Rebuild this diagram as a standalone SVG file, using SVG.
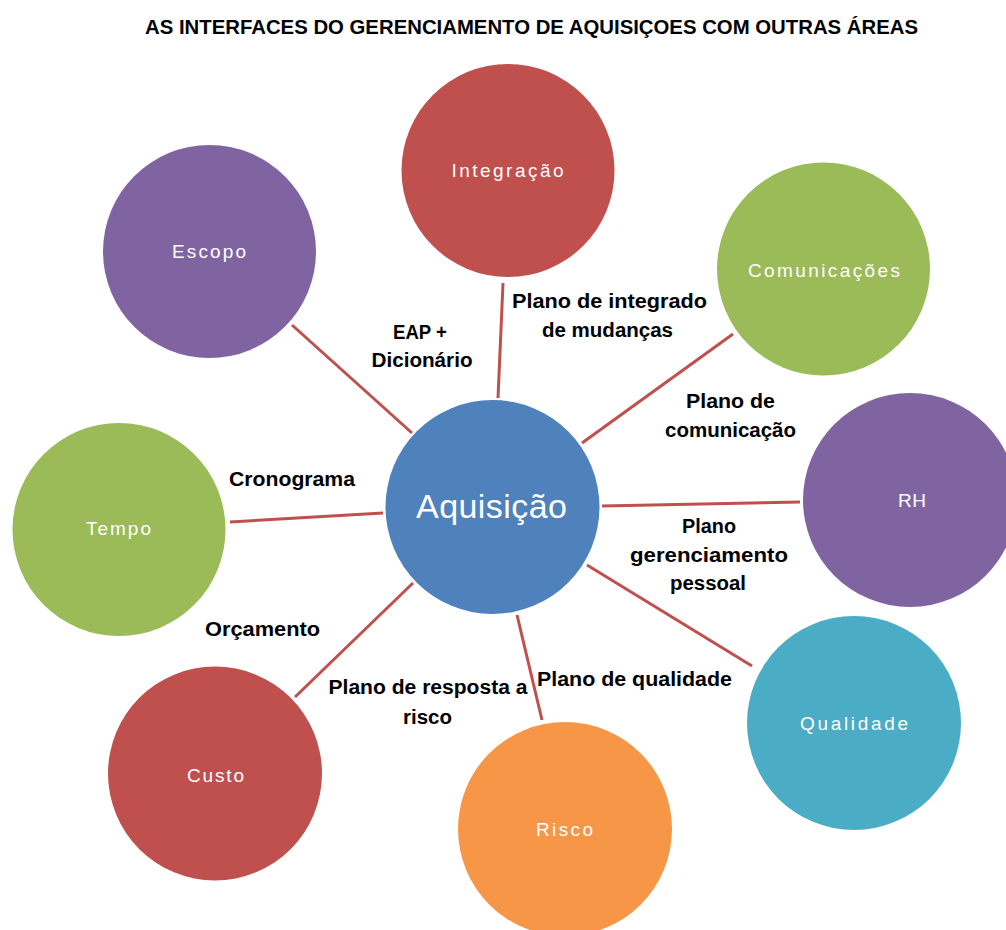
<svg xmlns="http://www.w3.org/2000/svg" width="1006" height="930" viewBox="0 0 1006 930">
  <style>
    .title { font-family: "Liberation Sans", Arial, sans-serif; font-weight: bold; font-size: 20px; fill: #000; }
    .lbl { font-family: "Liberation Sans", Arial, sans-serif; font-weight: bold; font-size: 20px; fill: #000; text-anchor: middle; }
    .node-text { font-family: "Liberation Sans", Arial, sans-serif; font-size: 19px; fill: #fff; text-anchor: middle; }
    .hub-text { font-family: "Liberation Sans", Arial, sans-serif; font-size: 34px; fill: #fff; text-anchor: middle; }
    .link { stroke: #C0504D; stroke-width: 3; stroke-linecap: butt; fill: none; }
    .red { fill: #C0504D; }
    .purple { fill: #8064A2; }
    .green { fill: #9BBB59; }
    .aqua { fill: #4BACC6; }
    .orange { fill: #F79646; }
    .blue { fill: #4F81BD; }
  </style>

  <rect width="1006" height="930" fill="#fff"/>

  <text class="title" x="145" y="34" textLength="773" lengthAdjust="spacingAndGlyphs">AS INTERFACES  DO GERENCIAMENTO  DE AQUISIÇOES  COM OUTRAS ÁREAS</text>

  <!-- spokes from the hub to each area -->
  <g id="connectors">
    <line class="link" x1="292" y1="325" x2="412" y2="433"/>
    <line class="link" x1="503" y1="283" x2="498" y2="398"/>
    <line class="link" x1="733" y1="334" x2="582" y2="443"/>
    <line class="link" x1="602" y1="506" x2="800" y2="502"/>
    <line class="link" x1="587" y1="565" x2="752" y2="666"/>
    <line class="link" x1="517" y1="615" x2="542" y2="720"/>
    <line class="link" x1="413" y1="583" x2="295" y2="697"/>
    <line class="link" x1="230" y1="522" x2="383" y2="513"/>
  </g>

  <!-- connector labels -->
  <g id="labels">
    <text class="lbl" x="420" y="339" textLength="54" lengthAdjust="spacingAndGlyphs">EAP +</text>
    <text class="lbl" x="422" y="367" textLength="101" lengthAdjust="spacingAndGlyphs">Dicionário</text>
    <text class="lbl" x="609.5" y="308" textLength="195" lengthAdjust="spacingAndGlyphs">Plano de integrado</text>
    <text class="lbl" x="607.5" y="337" textLength="131" lengthAdjust="spacingAndGlyphs">de mudanças</text>
    <text class="lbl" x="730.5" y="408" textLength="89" lengthAdjust="spacingAndGlyphs">Plano de</text>
    <text class="lbl" x="730.5" y="437" textLength="131" lengthAdjust="spacingAndGlyphs">comunicação</text>
    <text class="lbl" x="709" y="533" textLength="54" lengthAdjust="spacingAndGlyphs">Plano</text>
    <text class="lbl" x="709" y="562" textLength="158" lengthAdjust="spacingAndGlyphs">gerenciamento</text>
    <text class="lbl" x="708" y="590" textLength="76" lengthAdjust="spacingAndGlyphs">pessoal</text>
    <text class="lbl" x="292" y="486" textLength="126" lengthAdjust="spacingAndGlyphs">Cronograma</text>
    <text class="lbl" x="262.5" y="636" textLength="115" lengthAdjust="spacingAndGlyphs">Orçamento</text>
    <text class="lbl" x="428" y="694" textLength="199" lengthAdjust="spacingAndGlyphs">Plano de resposta a</text>
    <text class="lbl" x="427.5" y="724" textLength="49" lengthAdjust="spacingAndGlyphs">risco</text>
    <text class="lbl" x="634.5" y="686" textLength="195" lengthAdjust="spacingAndGlyphs">Plano de qualidade</text>
  </g>

  <g id="node-aquisicao">
    <circle class="blue" cx="492.5" cy="507" r="107"/>
    <text class="hub-text" x="491.5" y="518" textLength="151">Aquisição</text>
  </g>
  <g id="node-integracao">
    <circle class="red" cx="508" cy="170.5" r="106.5"/>
    <text class="node-text" x="507.5" y="177" textLength="112">Integração</text>
  </g>
  <g id="node-escopo">
    <circle class="purple" cx="209.5" cy="251.5" r="106.5"/>
    <text class="node-text" x="209" y="258" textLength="74">Escopo</text>
  </g>
  <g id="node-comunicacoes">
    <circle class="green" cx="823.5" cy="269" r="106.5"/>
    <text class="node-text" x="824" y="277" textLength="152">Comunicações</text>
  </g>
  <g id="node-rh">
    <circle class="purple" cx="910" cy="500" r="107"/>
    <text class="node-text" x="912" y="507" textLength="28">RH</text>
  </g>
  <g id="node-tempo">
    <circle class="green" cx="119" cy="529.5" r="106.5"/>
    <text class="node-text" x="118.5" y="535" textLength="65">Tempo</text>
  </g>
  <g id="node-qualidade">
    <circle class="aqua" cx="854" cy="723" r="107"/>
    <text class="node-text" x="854" y="730" textLength="108">Qualidade</text>
  </g>
  <g id="node-custo">
    <circle class="red" cx="215" cy="773.5" r="107"/>
    <text class="node-text" x="215.5" y="782" textLength="57">Custo</text>
  </g>
  <g id="node-risco">
    <circle class="orange" cx="565" cy="829" r="107"/>
    <text class="node-text" x="564.5" y="836" textLength="57">Risco</text>
  </g>
</svg>
